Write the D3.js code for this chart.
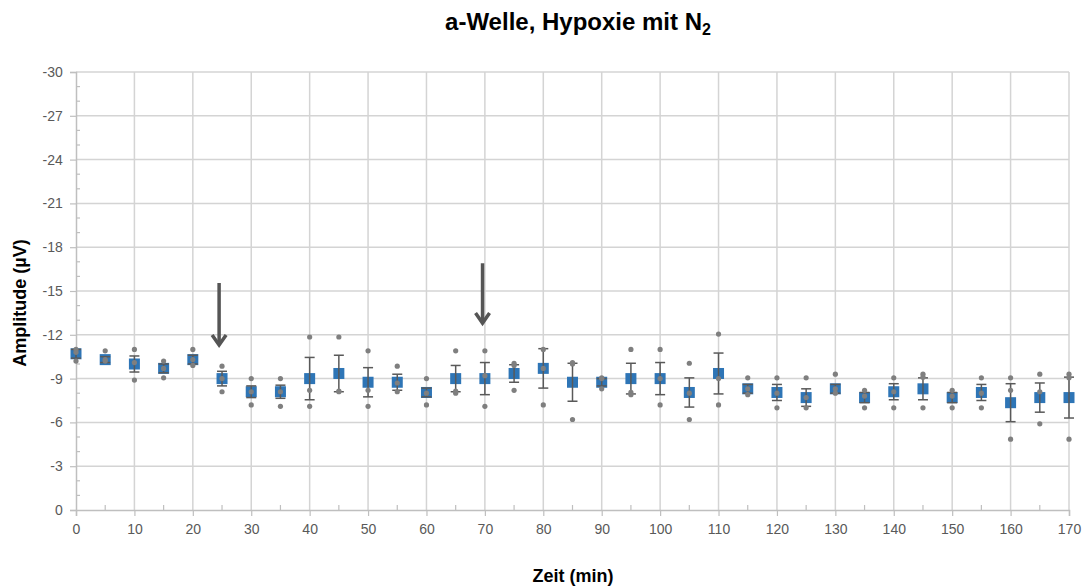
<!DOCTYPE html>
<meta charset="utf-8">
<script src="https://d3js.org/d3.v7.min.js"></script>
<style>
body { margin: 0; background: #fff; }
.tick-label { font: 14px "Liberation Sans", Arial, sans-serif; fill: #595959; }
.axis-title { font: bold 18px "Liberation Sans", Arial, sans-serif; fill: #000; }
.title { font: bold 24px "Liberation Sans", Arial, sans-serif; fill: #000; }
</style>
<body>
<script>

// time points (min)
var times = [0,5,10,15,20,25,30,35,40,45,50,55,60,65,70,75,80,85,90,95,100,105,110,115,120,125,130,135,140,145,150,155,160,165,170];

// mean amplitude (µV)
var means = [-10.7,-10.3,-10.0,-9.7,-10.3,-9.0,-8.1,-8.1,-9.0,-9.35,-8.75,-8.75,-8.05,-9.0,-9.0,-9.35,-9.7,-8.75,-8.75,-9.0,
             -9.0,-8.05,-9.35,-8.3,-8.05,-7.7,-8.3,-7.7,-8.1,-8.3,-7.7,-8.05,-7.35,-7.7,-7.7];

// error (±)
var errs = [0.3,0.2,0.55,0.3,0.3,0.5,0.4,0.45,1.45,1.25,1.0,0.55,0.3,0.9,1.1,0.6,1.35,1.3,0.25,1.05,
            1.1,1.0,1.4,0.3,0.55,0.6,0.3,0.35,0.55,0.75,0.35,0.55,1.3,1.0,1.4];

// single measurements
var rep1 = [-11.0,-10.9,-11.0,-10.2,-11.0,-9.85,-9.0,-9.0,-11.85,-11.85,-10.9,-9.85,-9.0,-10.9,-10.9,-10.05,-11.0,-10.1,-9.05,-11.0,
            -11.0,-10.05,-12.05,-9.05,-9.05,-9.05,-9.3,-8.2,-9.05,-9.3,-8.2,-9.05,-9.05,-9.3,-9.3];
var rep2 = [-10.8,-10.3,-10.1,-9.7,-10.3,-9.0,-8.1,-8.1,-8.2,-8.15,-8.2,-8.7,-8.0,-8.0,-9.2,-9.9,-9.7,-10.0,-9.0,-8.05,
            -9.0,-8.0,-9.0,-8.3,-8.0,-7.7,-8.3,-7.8,-8.1,-9.1,-7.8,-8.0,-8.2,-8.1,-9.05];
var rep3 = [-10.2,-10.2,-8.9,-9.05,-9.9,-8.1,-7.2,-7.1,-7.1,-8.1,-7.1,-8.1,-7.2,-8.15,-7.1,-8.2,-7.2,-6.2,-8.3,-7.9,
            -7.2,-6.2,-7.2,-7.9,-7.0,-7.0,-8.0,-7.0,-7.0,-7.0,-7.0,-7.0,-4.85,-5.9,-4.85];

// arrows: time, start value, end value
var arrowT = [24.5, 69.6];
var arrowFrom = [-15.55, -16.9];
var arrowTo = [-11.3, -12.8];

var xTicks = d3.range(0, 171, 10);
var yTicks = d3.range(0, -31, -3);

var W = 1089, H = 586;
var svg = d3.select("body").append("svg").attr("width", W).attr("height", H);

var x = d3.scaleLinear().domain([0, 170]).range([76, 1069]);
var y = d3.scaleLinear().domain([0, -30]).range([510, 72]);

// grid
svg.append("g").selectAll("line").data(yTicks.slice(1)).enter().append("line")
    .attr("x1", x(0)).attr("x2", x(170))
    .attr("y1", function(d) { return y(d); }).attr("y2", function(d) { return y(d); })
    .attr("stroke", "#d4d4d4").attr("stroke-width", 1.5);
svg.append("g").selectAll("line").data(xTicks.slice(1)).enter().append("line")
    .attr("y1", y(0)).attr("y2", y(-30))
    .attr("x1", function(d) { return x(d); }).attr("x2", function(d) { return x(d); })
    .attr("stroke", "#d4d4d4").attr("stroke-width", 1.5);

// axes (plain hyphen as minus, like the original)
var fmt = function(d) { return String(d); };
var xAxis = d3.axisBottom(x).tickValues(xTicks).tickSize(6).tickFormat(fmt);
var gx = svg.append("g").attr("transform", "translate(0," + y(0) + ")").call(xAxis);
var yAxis = d3.axisLeft(y).tickValues(yTicks).tickSize(6).tickFormat(fmt);
var gy = svg.append("g").attr("transform", "translate(" + x(0) + ",0)").call(yAxis);
[gx, gy].forEach(function(g) {
    g.select(".domain").attr("stroke", "#bfbfbf").attr("stroke-width", 1.5);
    g.selectAll(".tick line").attr("stroke", "#bfbfbf").attr("stroke-width", 1.2);
    g.selectAll(".tick text").attr("class", "tick-label").attr("font-size", null).attr("font-family", null);
});
gx.selectAll(".tick text").attr("dy", "1.1em");
gy.selectAll(".tick text").attr("dx", "-0.3em");

// minor ticks
svg.append("g").selectAll("line").data(d3.range(5, 171, 10)).enter().append("line")
    .attr("x1", function(d) { return x(d); }).attr("x2", function(d) { return x(d); })
    .attr("y1", y(0)).attr("y2", y(0) - 5)
    .attr("stroke", "#bfbfbf").attr("stroke-width", 1.2);
svg.append("g").selectAll("line").data(d3.range(-1, -30, -1).filter(function(d) { return d % 3 != 0; })).enter().append("line")
    .attr("x1", x(0)).attr("x2", x(0) + 4)
    .attr("y1", function(d) { return y(d); }).attr("y2", function(d) { return y(d); })
    .attr("stroke", "#bfbfbf").attr("stroke-width", 1.2);

// means
svg.append("g").selectAll("rect").data(times).enter().append("rect")
    .attr("x", function(d) { return x(d) - 5.5; })
    .attr("y", function(d, i) { return y(means[i]) - 5.5; })
    .attr("width", 11).attr("height", 11)
    .attr("fill", "#2e75b6");

// error bars
var eb = svg.append("g").attr("stroke", "#595959").attr("stroke-width", 1.5);
times.forEach(function(t, i) {
    var lo = y(means[i] + errs[i]), hi = y(means[i] - errs[i]);
    eb.append("line").attr("x1", x(t)).attr("x2", x(t)).attr("y1", lo).attr("y2", hi);
    eb.append("line").attr("x1", x(t) - 5).attr("x2", x(t) + 5).attr("y1", lo).attr("y2", lo);
    eb.append("line").attr("x1", x(t) - 5).attr("x2", x(t) + 5).attr("y1", hi).attr("y2", hi);
});

// single values
[rep1, rep2, rep3].forEach(function(rep) {
    svg.append("g").selectAll("circle").data(times).enter().append("circle")
        .attr("cx", function(d) { return x(d); })
        .attr("cy", function(d, i) { return y(rep[i]); })
        .attr("r", 2.6)
        .attr("fill", "#7f7f7f");
});

// arrows
var ag = svg.append("g").attr("stroke", "#555").attr("stroke-width", 3.5).attr("fill", "none");
arrowT.forEach(function(t, i) {
    var ax = x(t), y0 = y(arrowFrom[i]), y1 = y(arrowTo[i]);
    ag.append("line").attr("x1", ax).attr("x2", ax).attr("y1", y0).attr("y2", y1 - 2);
    ag.append("path").attr("d", "M" + (ax - 7) + "," + (y1 - 10) + "L" + ax + "," + y1 + "L" + (ax + 7) + "," + (y1 - 10));
});

// titles
var title = svg.append("text").attr("class", "title").attr("x", 578).attr("y", 30).attr("text-anchor", "middle");
title.append("tspan").text("a-Welle, Hypoxie mit N");
title.append("tspan").attr("font-size", "16px").attr("dy", 5).text("2");

svg.append("text").attr("class", "axis-title")
    .attr("transform", "translate(26,303) rotate(-90)")
    .attr("text-anchor", "middle").text("Amplitude (µV)");
svg.append("text").attr("class", "axis-title")
    .attr("x", 573).attr("y", 582).attr("text-anchor", "middle").text("Zeit (min)");

</script>
</body>
</html>
